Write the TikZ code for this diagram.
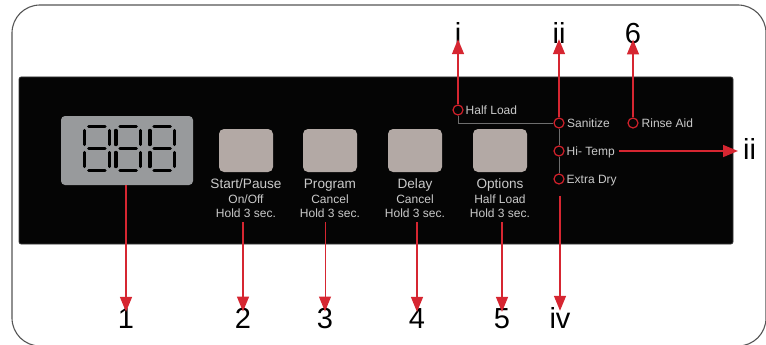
\documentclass[tikz,border=0pt]{standalone}
\usepackage{fontspec}
\setmainfont{Liberation Sans}
\usetikzlibrary{arrows.meta}
\definecolor{framegray}{HTML}{555555}
\definecolor{panelblack}{HTML}{050505}
\definecolor{panelrim}{HTML}{3A3A3A}
\definecolor{lcdgray}{HTML}{989A9C}
\definecolor{padgray}{HTML}{B3A9A5}
\definecolor{txtgray}{HTML}{CACACA}
\definecolor{ledred}{HTML}{D0202A}
\definecolor{arrowred}{HTML}{D62631}
\definecolor{wiregray}{HTML}{6E6E6E}
\begin{document}
\begin{tikzpicture}[x=1pt,y=-1pt,
  frame/.style={draw=framegray, line width=1.1pt, rounded corners=28pt},
  board/.style={draw=panelrim, fill=panelblack, line width=0.6pt, rounded corners=2pt,
                minimum width=714pt, minimum height=167pt, inner sep=0pt},
  lcd/.style={fill=lcdgray, rounded corners=4pt, minimum width=132pt, minimum height=69pt, inner sep=0pt},
  seg/.style={draw=black, line width=3.4pt, line cap=round},
  keypad/.style={fill=padgray, rounded corners=5pt, minimum width=54pt, minimum height=43pt, inner sep=0pt},
  keyname/.style={text=txtgray, font=\fontsize{13.6}{14}\selectfont, inner sep=0pt, anchor=base},
  keysub/.style={text=txtgray, font=\fontsize{12}{13}\selectfont, inner sep=0pt, anchor=base},
  led/.style={circle, draw=ledred, line width=1.2pt, minimum size=10pt, inner sep=0pt},
  ledtext/.style={text=txtgray, font=\fontsize{12}{13}\selectfont, inner sep=0pt, anchor=base west},
  wire/.style={draw=wiregray, line width=0.9pt},
  num/.style={font=\fontsize{29}{29}\selectfont, inner sep=0pt, anchor=base},
  arr/.style={draw=arrowred, line width=1.5pt, -{Triangle[width=12pt,length=15pt]}},
  thinarr/.style={arr, line width=1pt}]

\useasboundingbox (0,0) rectangle (766,345);

% outer housing outline
\begin{scope}
  \clip (0,0) rectangle (766,345);
  \draw[frame] (12,5) rectangle (766,346);
\end{scope}

% black control panel
\node[board] (board) at (376,160.5) {};

% three-digit seven-segment display
\node[lcd] (lcd) at (127,150.5) {};
\foreach \L in {82.7,114,148} {
  \draw[seg] (\L+6,126.3) -- (\L+22.3,126.3);
  \draw[seg] (\L+6,148.5) -- (\L+22.3,148.5);
  \draw[seg] (\L+6,170.6) -- (\L+22.3,170.6);
  \draw[seg] (\L+1.8,130.5) -- (\L+1.8,144.5);
  \draw[seg] (\L+26.5,130.5) -- (\L+26.5,144.5);
  \draw[seg] (\L+1.8,152.5) -- (\L+1.8,166.5);
  \draw[seg] (\L+26.5,152.5) -- (\L+26.5,166.5);
}

% push buttons with their captions
\node[keypad] (kstart) at (246,150.5) {};
\node[keypad] (kprog)  at (330,150.5) {};
\node[keypad] (kdelay) at (415,150.5) {};
\node[keypad] (kopt)   at (500,150.5) {};

\node[keyname] (start1) at (246,188) {Start/Pause};
\node[keysub]  (start2) at (246,203) {On/Off};
\node[keysub]  (start3) at (246,217) {Hold 3 sec.};
\node[keyname] (prog1)  at (330,188) {Program};
\node[keysub]  (prog2)  at (330,203) {Cancel};
\node[keysub]  (prog3)  at (330,217) {Hold 3 sec.};
\node[keyname] (delay1) at (415,188) {Delay};
\node[keysub]  (delay2) at (415,203) {Cancel};
\node[keysub]  (delay3) at (415,217) {Hold 3 sec.};
\node[keyname] (opt1)   at (500,188) {Options};
\node[keysub]  (opt2)   at (500,203) {Half Load};
\node[keysub]  (opt3)   at (500,217) {Hold 3 sec.};

% indicator lamps
\node[led] (lhalf)  at (458,110) {};
\node[led] (lsan)   at (559,123) {};
\node[led] (lrinse) at (633,123) {};
\node[led] (ltemp)  at (559,151) {};
\node[led] (ldry)   at (559,179) {};

\node[ledtext] (thalf)  at (465.5,114.3) {Half Load};
\node[ledtext] (tsan)   at (567,127.3) {Sanitize};
\node[ledtext] (trinse) at (641.5,127.3) {Rinse Aid};
\node[ledtext] (ttemp)  at (566.5,155.3) {Hi- Temp};
\node[ledtext] (tdry)   at (566.5,183.3) {Extra Dry};

% links between the option lamps
\draw[wire] (lhalf.south) |- (lsan.west);
\draw[wire] (lsan.south) -- (ltemp.north);
\draw[wire] (ltemp.south) -- (ldry.north);

% callout numbers
\node[num] (n1)  at (126,328) {1};
\node[num] (n2)  at (243,328) {2};
\node[num] (n3)  at (325,328) {3};
\node[num] (n4)  at (417,328) {4};
\node[num] (n5)  at (502,328) {5};
\node[num] (niv) at (560,328) {iv};
\node[num] (ni)  at (458,44) {i};
\node[num] (nii) at (559,44) {ii};
\node[num] (n6)  at (633,44) {6};
\node[num, anchor=base west] (nii2) at (743,159) {ii};

% callout arrows
\draw[arr] (lcd.south -| n1) -- ([yshift=-4pt]n1.north);
\draw[arr] ([yshift=-5pt]start3.south -| n2) -- ([yshift=-4pt]n2.north);
\draw[thinarr] ([yshift=-5pt]prog3.south -| n3) -- ([yshift=-4pt]n3.north);
\draw[arr] ([yshift=-5pt]delay3.south -| n4) -- ([yshift=-4pt]n4.north);
\draw[arr] ([yshift=-5pt]opt3.south -| n5) -- ([yshift=-4pt]n5.north);
\draw[arr] ([yshift=-11pt]ldry.south -| niv) -- ([yshift=-4pt]niv.north);
\draw[arr] (lhalf.north) -- ([yshift=5pt]ni.south);
\draw[arr] (lsan.north) -- ([yshift=5pt]nii.south);
\draw[arr] (lrinse.north) -- ([yshift=5pt]n6.south);
\draw[arr] ([xshift=4pt]ttemp.east |- ltemp) -- ([xshift=-5pt]nii2.west |- ltemp);
\end{tikzpicture}
\end{document}
